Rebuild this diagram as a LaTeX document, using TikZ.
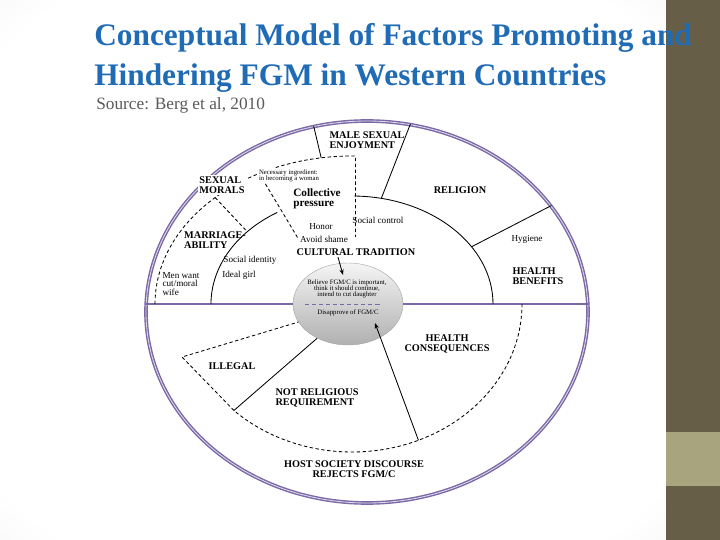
\documentclass[tikz,border=0pt]{standalone}
\usepackage{fontspec}
\setmainfont{Liberation Serif}
\usetikzlibrary{shapes.geometric, arrows.meta, positioning}

\definecolor{SlideBlue}{HTML}{1F6BB5}
\definecolor{SlideGray}{HTML}{5A5A5A}
\definecolor{SlideBrown}{HTML}{675E48}
\definecolor{SlideKhaki}{HTML}{A8A47E}
\definecolor{ModelPurple}{HTML}{7B68A6}

% Soft grey toward the slide corners
\pgfdeclareradialshading{vignette}{\pgfpoint{0bp}{0bp}}{%
    color(0bp)=(white); color(32bp)=(white); color(71bp)=(black!20)}

\tikzset{
    % Labels
    factor/.style={
        font=\fontsize{7.3}{7.4}\selectfont\bfseries,
        align=left,
        inner sep=1pt
    },
    factor centred/.style={
        factor,
        align=center
    },
    detail/.style={
        font=\fontsize{6.5}{6.3}\selectfont,
        align=left,
        inner sep=1pt
    },
    small detail/.style={
        font=\fontsize{4.8}{4.5}\selectfont,
        align=left,
        inner sep=1pt
    },
    % Lines
    divider/.style={
        draw=black,
        line width=0.6pt
    },
    dashed divider/.style={
        divider,
        dash pattern=on 2.4pt off 1.8pt
    },
    arrow style/.style={
        -{Stealth[length=4pt, width=3pt]},
        line width=0.6pt,
        black
    }
}

\begin{document}
\begin{tikzpicture}
    % Slide
    \useasboundingbox (0,0) rectangle (18,13.5);
    \shade[shading=vignette] (0,0) rectangle (16.65,13.5);
    \fill[SlideBrown] (16.65,0) rectangle (18,13.5);
    \fill[SlideKhaki] (16.65,1.35) rectangle (18,2.7);
    \fill[white] (3.2,0.525) rectangle (15.15,10.55);

    % Title
    \node[anchor=base west, inner sep=0, font=\fontsize{22.3}{26}\selectfont\bfseries, text=SlideBlue] (title1) at (2.35,12.35) {Conceptual Model of Factors Promoting and};
    \node[anchor=base west, inner sep=0, font=\fontsize{22.3}{26}\selectfont\bfseries, text=SlideBlue] (title2) at (2.35,11.35) {Hindering FGM in Western Countries};

    % Source
    \node[anchor=base west, inner sep=0, font=\fontsize{12.3}{14}\selectfont, text=SlideGray] (source) at (2.4,10.75) {Source: Berg et al, 2010};

    \begin{scope}[shift={(8.8,5.9)}]
        % Outer frame and middle line
        \node[ellipse, draw=ModelPurple, line width=1pt, double=ModelPurple!25, double distance=0.6pt, minimum width=11.05cm, minimum height=9.55cm, inner sep=0] (frame) at (0.375,-0.2) {};
        \draw[ModelPurple, line width=0.9pt] (frame.west |- 0,0) -- (frame.east |- 0,0);

        % Cultural tradition boundary
        \draw[divider] (3.525,0) arc[start angle=0, end angle=89, x radius=3.525, y radius=2.7];
        \draw[divider] (122:3.525 and 2.7) arc[start angle=122, end angle=180, x radius=3.525, y radius=2.7];

        % Collective pressure boundary
        \draw[dashed divider] (-4.925,0) arc[start angle=180, end angle=89, x radius=4.925, y radius=3.7] -- (0.086,1.68);
        \draw[dashed divider] (134:4.925 and 3.7) -- (138:3.525 and 2.7);

        % Sectors of the upper half
        \draw[divider] (frame.106) -- (99:4.925 and 3.7);
        \draw[divider] (frame.77) -- (78:3.525 and 2.7);
        \draw[divider] (frame.30) -- (32:3.525 and 2.7);

        % Host society boundary
        \draw[dashed divider] (4.25,0) arc[start angle=0, end angle=-134, x radius=4.25, y radius=3.7] coordinate (lowend);
        \coordinate (illegalcorner) at (-4.25,-1.325);
        \coordinate (rejectfoot) at (-67:4.25 and 3.7);

        % Attitudes
        \node[ellipse, draw=gray!70, line width=0.3pt, top color=gray!8, bottom color=gray!62, minimum width=2.75cm, minimum height=2.05cm, inner sep=0] (core) at (-0.1,0) {};
        \node[small detail, align=center] (believe) at (-0.125,0.375) {Believe FGM/C is important,\\think it should continue,\\intend to cut daughter};
        \draw[ModelPurple, line width=0.6pt, dash pattern=on 3pt off 2pt] ([xshift=-1.075cm]core.center) -- ([xshift=0.8cm]core.center);
        \node[small detail] (disapprove) at (-0.1,-0.225) {Disapprove of FGM/C};

        \draw[dashed divider] (lowend) -- (illegalcorner) -- (core.200);
        \draw[divider] (lowend) -- (core.228);

        % Promoting factors
        \node[factor] (male) at (0.375,4.1) {MALE SEXUAL\\ENJOYMENT};
        \node[factor, fill=white] (morals) at (-3.25,2.975) {SEXUAL\\MORALS};
        \node[small detail, fill=white] (ingredient) at (-1.575,3.2) {Necessary ingredient:\\in becoming a woman};
        \node[font=\fontsize{8}{7.4}\selectfont\bfseries, align=left, inner sep=1pt] (collective) at (-0.875,2.625) {Collective\\pressure};
        \node[factor] (religion) at (2.7,2.85) {RELIGION};
        \node[detail] (control) at (0.65,2.1) {Social control};
        \node[detail] (honor) at (-0.775,1.925) {Honor};
        \node[detail] (shame) at (-0.7,1.625) {Avoid shame};
        \node[factor] (tradition) at (0.1,1.3) {CULTURAL TRADITION};
        \node[factor] (marriage) at (-3.425,1.6) {MARRIAGE-\\ABILITY};
        \node[detail] (identity) at (-2.55,1.1) {Social identity};
        \node[detail] (ideal) at (-2.825,0.725) {Ideal girl};
        \node[detail] (menwant) at (-4.275,0.5) {Men want\\cut/moral\\wife};
        \node[detail] (hygiene) at (4.375,1.625) {Hygiene};
        \node[factor] (benefits) at (4.65,0.7) {HEALTH\\BENEFITS};

        % Hindering factors
        \node[factor] (illegal) at (-3,-1.55) {ILLEGAL};
        \node[factor] (notreligious) at (-0.875,-2.35) {NOT RELIGIOUS\\REQUIREMENT};
        \node[factor centred] (consequences) at (2.375,-1.0) {HEALTH\\CONSEQUENCES};
        \node[factor centred] (host) at (0.05,-4.125) {HOST SOCIETY DISCOURSE\\REJECTS FGM/C};

        % Links
        \draw[dashed divider] ([xshift=0.2cm]ingredient.south west) -- (shame.west);
        \coordinate (tradtip) at (-0.225,0.725);
        \coordinate (rejecttip) at (0.575,-0.475);
        \draw[arrow style] ([xshift=-0.45cm]tradition.south) -- (tradtip);
        \draw[arrow style] (rejectfoot) -- (rejecttip);
    \end{scope}
\end{tikzpicture}
\end{document}
